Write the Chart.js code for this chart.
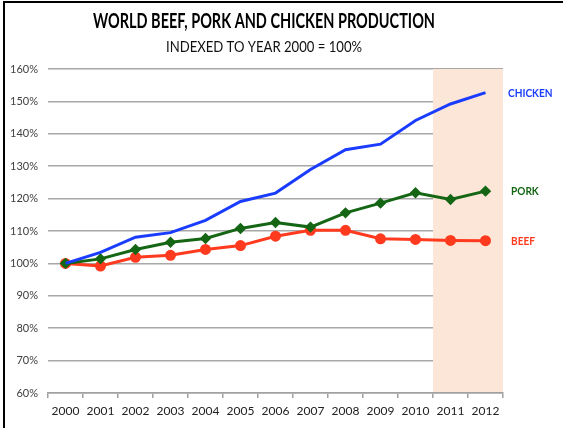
<!DOCTYPE html>
<html>
<head>
<meta charset="utf-8">
<script src="https://cdn.jsdelivr.net/npm/chart.js@4.4.1/dist/chart.umd.min.js"></script>
<style>
  html, body { margin: 0; padding: 0; background: #fff; }
  #wrap { position: relative; width: 563px; height: 428px; }
  #frame { position: absolute; left: 3px; top: 1px; width: 570px; height: 440px; border-left: 2px solid #000; border-top: 2px solid #000; box-sizing: border-box; pointer-events: none; }
  canvas { position: absolute; left: 0; top: 0; }
</style>
</head>
<body>
<div id="wrap">
  <canvas id="c" width="563" height="428"></canvas>
  <div id="frame"></div>
</div>
<script>
const years = ['2000','2001','2002','2003','2004','2005','2006','2007','2008','2009','2010','2011','2012'];
const chicken = [100, 103.4, 108.1, 109.5, 113.3, 119.1, 121.7, 129.0, 135.1, 136.8, 144.1, 149.2, 152.7];
const pork    = [100, 101.4, 104.3, 106.5, 107.7, 110.8, 112.6, 111.2, 115.6, 118.6, 121.8, 119.7, 122.3];
const beef    = [100, 99.2, 101.9, 102.5, 104.3, 105.5, 108.4, 110.2, 110.2, 107.6, 107.4, 107.1, 107.0];
const seriesNames = ['CHICKEN', 'PORK', 'BEEF'];
const shadedYears = ['2011', '2012'];
const titleText = 'WORLD BEEF, PORK AND CHICKEN PRODUCTION';
const subtitleText = 'INDEXED TO YEAR 2000 = 100%';

const FONT = 'Lato, "Open Sans", sans-serif';

const shadePlugin = {
  id: 'shade',
  beforeDatasetsDraw(chart) {
    const x = chart.scales.x, a = chart.chartArea;
    const half = (x.getPixelForValue(1) - x.getPixelForValue(0)) / 2;
    const x0 = x.getPixelForValue(years.indexOf(shadedYears[0])) - half;
    const ctx = chart.ctx;
    ctx.save();
    ctx.fillStyle = '#fce6d7';
    ctx.fillRect(x0, a.top, a.right - x0, a.bottom - a.top - 1);
    ctx.restore();
  }
};

const textPlugin = {
  id: 'texts',
  afterDraw(chart) {
    const ctx = chart.ctx;
    ctx.save();
    ctx.textAlign = 'center';
    ctx.textBaseline = 'middle';
    ctx.fillStyle = '#000';
    ctx.font = 'bold 20px ' + FONT;
    ctx.fillText(titleText, 264, 22, 342);
    ctx.fillStyle = '#111';
    ctx.font = '16px ' + FONT;
    ctx.fillText(subtitleText, 264, 47, 196);
    // series labels at right
    ctx.textAlign = 'left';
    ctx.font = 'bold 12px ' + FONT;
    const xs = [508, 511, 511];
    chart.data.datasets.forEach((ds, i) => {
      const meta = chart.getDatasetMeta(i);
      const pt = meta.data[meta.data.length - 1];
      ctx.fillStyle = ds.borderColor;
      const w = ctx.measureText(seriesNames[i]).width * 0.84;
      ctx.fillText(seriesNames[i], xs[i], pt.y, w);
    });
    ctx.restore();
  }
};

new Chart(document.getElementById('c'), {
  type: 'line',
  data: {
    labels: years,
    datasets: [
      { label: seriesNames[0], data: chicken, borderColor: '#1a3cff', backgroundColor: '#1a3cff', borderWidth: 3, pointRadius: 0, tension: 0 },
      { label: seriesNames[1], data: pork, borderColor: '#146614', backgroundColor: '#146614', borderWidth: 3, pointStyle: 'rectRot', pointRadius: 3.6, tension: 0 },
      { label: seriesNames[2], data: beef, borderColor: '#ff3a1e', backgroundColor: '#ff3a1e', borderWidth: 3, pointStyle: 'circle', pointRadius: 4, tension: 0 }
    ]
  },
  options: {
    responsive: false,
    animation: false,
    layout: { padding: { top: 69, right: 60, left: 0, bottom: 0 } },
    plugins: { legend: { display: false }, tooltip: { enabled: false }, title: { display: false } },
    scales: {
      x: {
        offset: true,
        grid: { display: true, offset: true, drawOnChartArea: false, drawTicks: true, tickLength: 5, color: '#a0a0a0', lineWidth: 1.5 },
        border: { display: true, color: '#a0a0a0', width: 1.5 },
        ticks: { color: '#222', font: { family: FONT, size: 12 }, padding: 6, maxRotation: 0, autoSkip: false },
        afterFit(s) { s.height = 35; }
      },
      y: {
        min: 60, max: 160,
        grid: { color: '#a8a8a8', lineWidth: 1.5, drawTicks: false },
        border: { display: false },
        ticks: { stepSize: 10, color: '#404040', font: { family: FONT, size: 11 }, padding: 10, callback: v => v + '%' },
        afterFit(s) { s.width = 48; }
      }
    }
  },
  plugins: [shadePlugin, textPlugin]
});
</script>
</body>
</html>
